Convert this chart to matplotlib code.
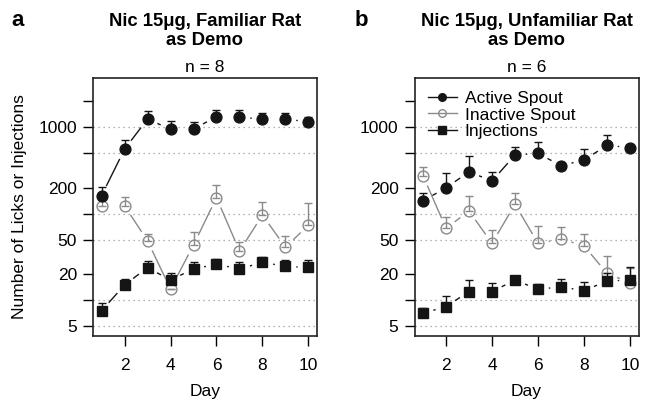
import numpy as np
import matplotlib
matplotlib.use("Agg")
import matplotlib.pyplot as plt
from matplotlib.lines import Line2D

plt.rcParams['font.family'] = ['Liberation Sans', 'DejaVu Sans']

days = np.arange(1, 11)

# panel a: familiar rat as demo (n = 8)
a_active = [161, 555, 1244, 944, 950, 1324, 1310, 1234, 1234, 1158]
a_active_top = [205, 711, 1552, 1190, 1148, 1581, 1570, 1459, 1459, 1324]
a_inactive = [123, 123, 48.5, 13.4, 43.3, 153, 36.9, 96.3, 40.7, 73.8]
a_inactive_top = [157, 157, 57.5, 13.4, 62, 214, 46.6, 137, 55.5, 134]
a_inj = [7.5, 14.9, 23.7, 17.0, 22.9, 25.9, 22.9, 27.3, 24.5, 23.8]
a_inj_top = [9.2, 17.5, 28.5, 20.7, 27.5, 30, 27.8, 31.7, 29, 29]

# panel b: unfamiliar rat as demo (n = 6)
b_active = [141, 198, 305, 238, 476, 498, 358, 417, 617, 579]
b_active_top = [175, 292, 464, 305, 585, 674, 370, 555, 813, 590]
b_inactive = [275, 67.6, 107, 45.3, 128, 45.3, 50.8, 42.5, 20.3, 15.9]
b_inactive_top = [349, 90.6, 160, 64.6, 172, 71.8, 70.6, 58.2, 32.6, 23.7]
b_inj = [7.0, 8.4, 12.5, 12.5, 17.0, 13.3, 14.2, 12.8, 16.6, 17.0]
b_inj_top = [8.0, 11.1, 17.0, 15.6, 18.0, 15.3, 17.5, 16.3, 20.7, 23.8]

titles = ["Nic 15\u03bcg, Familiar Rat\nas Demo", "Nic 15\u03bcg, Unfamiliar Rat\nas Demo"]
ns = ["n = 8", "n = 6"]
letters = ["a", "b"]

yticks = [5, 10, 20, 50, 100, 200, 500, 1000, 2000]
yticklabels = ["5", "", "20", "50", "", "200", "", "1000", ""]
grid_levels = [5, 10, 50, 100, 500, 1000]

GRAY = "#8a8a8a"
BLACK = "#151515"

W, H = 646, 403
fig = plt.figure(figsize=(W / 100, H / 100), dpi=100)


def gapped(ax, x, y, gap=11.5, **kw):
    # type="b" style: line segments that stop short of each point
    pts = ax.transData.transform(np.column_stack([x, y]))
    inv = ax.transData.inverted()
    for p, q in zip(pts[:-1], pts[1:]):
        d = q - p
        L = np.hypot(*d)
        if L <= 2 * gap:
            continue
        u = d / L
        seg = inv.transform(np.array([p + u * gap, q - u * gap]))
        ax.plot(seg[:, 0], seg[:, 1], **kw)


panels = [
    (a_active, a_active_top, a_inactive, a_inactive_top, a_inj, a_inj_top),
    (b_active, b_active_top, b_inactive, b_inactive_top, b_inj, b_inj_top),
]
lefts = [93, 414.5]

for i, (act, act_t, ina, ina_t, inj, inj_t) in enumerate(panels):
    x0 = lefts[i]
    ax = fig.add_axes([x0 / W, 1 - 336 / H, 224 / W, 258 / H])
    ax.set_yscale('log')
    ax.set_xlim(0.63, 10.37)
    ax.set_ylim(3.83, 3708)
    ax.set_yticks(yticks)
    ax.set_yticklabels(yticklabels)
    ax.yaxis.set_minor_locator(matplotlib.ticker.NullLocator())
    ax.set_xticks([2, 4, 6, 8, 10])
    ax.tick_params(axis='both', labelsize=12.5, length=7.5, width=1, direction='out')
    ax.tick_params(axis='y', pad=4)
    ax.tick_params(axis='x', pad=8)
    for s in ax.spines.values():
        s.set_linewidth(1.2)
        s.set_color('#222222')
    for g in grid_levels:
        ax.axhline(g, color='#9a9a9a', lw=0.9, ls=(0, (1, 3)), zorder=0)

    for vals, tops, col, mk, face in [
        (ina, ina_t, GRAY, 'o', 'none'),
        (act, act_t, BLACK, 'o', BLACK),
        (inj, inj_t, BLACK, 's', BLACK),
    ]:
        vals = np.array(vals)
        tops = np.array(tops)
        gapped(ax, days, vals, color=col, lw=1.0, zorder=2)
        ax.errorbar(days, vals, yerr=[np.zeros_like(vals), tops - vals], fmt='none',
                    ecolor=col, elinewidth=1.0, capsize=3, capthick=1.0, zorder=3)
        ax.plot(days, vals, ls='none', marker=mk, ms=7.8, mfc=face, mec=col, mew=1.0, zorder=4)

    ax.set_xlabel("Day", fontsize=12.5, labelpad=8)

    cx = (x0 + 112) / W
    fig.text(cx, 1 - 31 / H, titles[i], ha='center', va='center', fontsize=13.3,
             fontweight='bold', linespacing=1.1)
    fig.text(cx, 1 - 67 / H, ns[i], ha='center', va='center', fontsize=12.5)
    fig.text((x0 - 75) / W if i == 0 else (x0 - 53) / W, 1 - 20 / H, letters[i],
             ha='center', va='center', fontsize=16, fontweight='bold')

    if i == 1:
        handles = [
            Line2D([], [], color=BLACK, lw=1.0, marker='o', ms=5.5, mfc=BLACK, mec=BLACK),
            Line2D([], [], color=GRAY, lw=1.0, marker='o', ms=5.5, mfc='none', mec=GRAY),
            Line2D([], [], color=BLACK, lw=1.0, marker='s', ms=5.5, mfc=BLACK, mec=BLACK),
        ]
        ax.legend(handles, ["Active Spout", "Inactive Spout", "Injections"],
                  loc='upper left', bbox_to_anchor=(0.045, 0.965), frameon=False,
                  fontsize=12.5, handlelength=1.65, handletextpad=0.45,
                  labelspacing=0.1, borderaxespad=0, borderpad=0.2)

fig.text(20 / W, 1 - 207 / H, "Number of Licks or Injections", rotation=90,
         ha='center', va='center', fontsize=12.5)

fig.savefig("out.png", dpi=100)
